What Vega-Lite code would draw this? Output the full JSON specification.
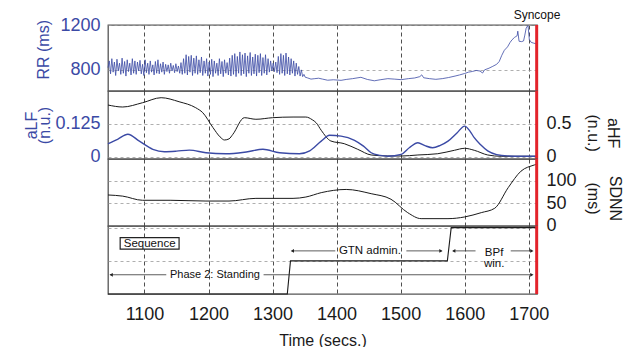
{
  "$schema": "https://vega.github.io/schema/vega-lite/v6.json",
  "padding": {"left": 22, "top": 8, "right": 0, "bottom": 0},
  "spacing": 0,
  "bounds": "flush",
  "config": {
    "font": "Liberation Sans",
    "view": {"stroke": "#555", "strokeWidth": 1.3},
    "axis": {"domain": false, "ticks": false, "labelFont": "Liberation Sans", "titleFont": "Liberation Sans", "labelFontSize": 18, "titleFontSize": 16, "titleFontWeight": "normal", "labelColor": "#1a1a1a", "titleColor": "#1a1a1a", "labelFlush": false, "labelOverlap": false, "labelBound": false},
    "axisY": {"gridColor": "#9a9a9a", "gridDash": [3, 3], "gridWidth": 0.8},
    "axisX": {"gridColor": "#222", "gridDash": [4, 3], "gridWidth": 0.8}
  },
  "datasets": {
    "rr": [
      {"t":1043,"rr":820},{"t":1045,"rr":880},{"t":1047,"rr":765},{"t":1049,"rr":900},{"t":1051,"rr":780},{"t":1053,"rr":870},{"t":1055,"rr":750},{"t":1057,"rr":895},{"t":1059,"rr":790},{"t":1061,"rr":860},
      {"t":1063,"rr":760},{"t":1065,"rr":905},{"t":1067,"rr":770},{"t":1069,"rr":875},{"t":1071,"rr":745},{"t":1073,"rr":890},{"t":1075,"rr":785},{"t":1077,"rr":860},{"t":1079,"rr":755},{"t":1081,"rr":900},
      {"t":1083,"rr":770},{"t":1085,"rr":880},{"t":1087,"rr":760},{"t":1089,"rr":870},{"t":1091,"rr":790},{"t":1093,"rr":885},{"t":1095,"rr":765},{"t":1097,"rr":850},{"t":1099,"rr":750},{"t":1101,"rr":890},
      {"t":1103,"rr":775},{"t":1105,"rr":860},{"t":1107,"rr":760},{"t":1109,"rr":880},{"t":1111,"rr":780},{"t":1113,"rr":845},{"t":1115,"rr":755},{"t":1117,"rr":875},{"t":1119,"rr":770},{"t":1121,"rr":890},
      {"t":1123,"rr":765},{"t":1125,"rr":855},{"t":1127,"rr":780},{"t":1129,"rr":870},{"t":1131,"rr":760},{"t":1133,"rr":850},{"t":1135,"rr":785},{"t":1137,"rr":845},{"t":1139,"rr":770},{"t":1141,"rr":860},
      {"t":1143,"rr":790},{"t":1145,"rr":840},{"t":1147,"rr":775},{"t":1149,"rr":855},{"t":1151,"rr":785},{"t":1153,"rr":835},{"t":1155,"rr":770},{"t":1157,"rr":865},{"t":1159,"rr":760},{"t":1161,"rr":900},
      {"t":1163,"rr":770},{"t":1165,"rr":935},{"t":1167,"rr":755},{"t":1169,"rr":920},{"t":1171,"rr":780},{"t":1173,"rr":930},{"t":1175,"rr":750},{"t":1177,"rr":905},{"t":1179,"rr":770},{"t":1181,"rr":925},
      {"t":1183,"rr":760},{"t":1185,"rr":890},{"t":1187,"rr":775},{"t":1189,"rr":915},{"t":1191,"rr":750},{"t":1193,"rr":880},{"t":1195,"rr":770},{"t":1197,"rr":900},{"t":1199,"rr":745},{"t":1201,"rr":870},
      {"t":1203,"rr":760},{"t":1205,"rr":895},{"t":1207,"rr":740},{"t":1209,"rr":880},{"t":1211,"rr":770},{"t":1213,"rr":860},{"t":1215,"rr":750},{"t":1217,"rr":900},{"t":1219,"rr":765},{"t":1221,"rr":875},
      {"t":1223,"rr":740},{"t":1225,"rr":890},{"t":1227,"rr":770},{"t":1229,"rr":865},{"t":1231,"rr":755},{"t":1233,"rr":905},{"t":1235,"rr":745},{"t":1237,"rr":930},{"t":1239,"rr":760},{"t":1241,"rr":945},
      {"t":1243,"rr":740},{"t":1245,"rr":920},{"t":1247,"rr":770},{"t":1249,"rr":960},{"t":1251,"rr":750},{"t":1253,"rr":935},{"t":1255,"rr":765},{"t":1257,"rr":950},{"t":1259,"rr":740},{"t":1261,"rr":925},
      {"t":1263,"rr":770},{"t":1265,"rr":955},{"t":1267,"rr":750},{"t":1269,"rr":915},{"t":1271,"rr":765},{"t":1273,"rr":940},{"t":1275,"rr":745},{"t":1277,"rr":930},{"t":1279,"rr":775},{"t":1281,"rr":945},
      {"t":1283,"rr":750},{"t":1285,"rr":910},{"t":1287,"rr":770},{"t":1289,"rr":935},{"t":1291,"rr":755},{"t":1293,"rr":900},{"t":1295,"rr":780},{"t":1297,"rr":880},{"t":1299,"rr":790},{"t":1301,"rr":860},
      {"t":1303,"rr":785},{"t":1305,"rr":870},{"t":1307,"rr":775},{"t":1309,"rr":920},{"t":1311,"rr":760},{"t":1313,"rr":945},{"t":1315,"rr":770},{"t":1317,"rr":930},{"t":1319,"rr":750},{"t":1321,"rr":950},
      {"t":1323,"rr":765},{"t":1325,"rr":915},{"t":1327,"rr":755},{"t":1329,"rr":900},{"t":1331,"rr":770},{"t":1333,"rr":880},{"t":1335,"rr":745},{"t":1337,"rr":860},{"t":1339,"rr":760},{"t":1341,"rr":830},
      {"t":1343,"rr":745},{"t":1345,"rr":800},{"t":1347,"rr":740},{"t":1349,"rr":760},{"t":1351,"rr":735},{"t":1355,"rr":728},{"t":1360,"rr":718},{"t":1366,"rr":722},{"t":1372,"rr":726},{"t":1378,"rr":718},
      {"t":1386,"rr":708},{"t":1395,"rr":712},{"t":1407,"rr":707},{"t":1415,"rr":715},{"t":1425,"rr":722},{"t":1438,"rr":734},{"t":1448,"rr":715},{"t":1459,"rr":703},{"t":1468,"rr":712},{"t":1480,"rr":722},
      {"t":1490,"rr":718},{"t":1501,"rr":713},{"t":1512,"rr":722},{"t":1522,"rr":728},{"t":1530,"rr":740},{"t":1533,"rr":756},{"t":1536,"rr":730},{"t":1545,"rr":722},{"t":1555,"rr":716},{"t":1565,"rr":722},
      {"t":1575,"rr":732},{"t":1585,"rr":745},{"t":1592,"rr":755},{"t":1600,"rr":768},{"t":1606,"rr":780},{"t":1612,"rr":786},{"t":1618,"rr":795},{"t":1624,"rr":790},{"t":1628,"rr":772},{"t":1631,"rr":800},
      {"t":1638,"rr":815},{"t":1644,"rr":832},{"t":1650,"rr":850},{"t":1654,"rr":875},{"t":1658,"rr":930},{"t":1662,"rr":975},{"t":1667,"rr":1005},{"t":1671,"rr":1045},{"t":1674,"rr":1068},{"t":1678,"rr":1090},
      {"t":1680,"rr":1097},{"t":1682,"rr":1105},{"t":1683,"rr":1145},{"t":1685,"rr":1055},{"t":1689,"rr":1052},{"t":1692,"rr":1058},{"t":1694,"rr":1110},{"t":1696,"rr":1170},{"t":1698,"rr":1190},{"t":1699,"rr":1195},
      {"t":1701,"rr":1070},{"t":1704,"rr":1045},{"t":1708,"rr":1038},{"t":1713,"rr":1030}
    ],
    "alf": [
      {"t":1043,"v":0.049},{"t":1058,"v":0.066},{"t":1074,"v":0.085},{"t":1092,"v":0.059},{"t":1113,"v":0.028},{"t":1131,"v":0.019},{"t":1150,"v":0.021},{"t":1170,"v":0.025},{"t":1196,"v":0.015},{"t":1227,"v":0.011},
      {"t":1259,"v":0.018},{"t":1285,"v":0.028},{"t":1311,"v":0.015},{"t":1342,"v":0.011},{"t":1358,"v":0.022},{"t":1376,"v":0.059},{"t":1389,"v":0.081},{"t":1407,"v":0.078},{"t":1428,"v":0.062},{"t":1442,"v":0.04},
      {"t":1454,"v":0.015},{"t":1468,"v":0.005},{"t":1480,"v":0.002},{"t":1501,"v":0.009},{"t":1514,"v":0.035},{"t":1527,"v":0.053},{"t":1538,"v":0.042},{"t":1550,"v":0.034},{"t":1562,"v":0.043},{"t":1574,"v":0.059},
      {"t":1588,"v":0.09},{"t":1600,"v":0.116},{"t":1608,"v":0.098},{"t":1615,"v":0.072},{"t":1625,"v":0.045},{"t":1636,"v":0.022},{"t":1650,"v":0.008},{"t":1667,"v":0.003},{"t":1690,"v":0.002},{"t":1713,"v":0.002}
    ],
    "ahf": [
      {"t":1043,"v":0.783},{"t":1066,"v":0.753},{"t":1097,"v":0.818},{"t":1126,"v":0.894},{"t":1154,"v":0.833},{"t":1180,"v":0.742},{"t":1191,"v":0.667},{"t":1207,"v":0.44},{"t":1218,"v":0.3},{"t":1225,"v":0.253},
      {"t":1232,"v":0.27},{"t":1238,"v":0.339},{"t":1256,"v":0.591},{"t":1274,"v":0.567},{"t":1300,"v":0.591},{"t":1332,"v":0.601},{"t":1352,"v":0.601},{"t":1362,"v":0.56},{"t":1368,"v":0.515},{"t":1376,"v":0.4},
      {"t":1391,"v":0.238},{"t":1412,"v":0.197},{"t":1433,"v":0.112},{"t":1454,"v":0.026},{"t":1480,"v":0.011},{"t":1501,"v":0.01},{"t":1527,"v":0.026},{"t":1558,"v":0.045},{"t":1584,"v":0.097},{"t":1600,"v":0.127},
      {"t":1615,"v":0.097},{"t":1636,"v":0.026},{"t":1657,"v":0.006},{"t":1713,"v":0.006}
    ],
    "sdnn": [
      {"t":1043,"v":68.6},{"t":1066,"v":66},{"t":1097,"v":56.7},{"t":1140,"v":56.7},{"t":1196,"v":55},{"t":1232,"v":55},{"t":1274,"v":61},{"t":1332,"v":61},{"t":1352,"v":64},{"t":1376,"v":73.8},
      {"t":1415,"v":81},{"t":1454,"v":71.5},{"t":1485,"v":59},{"t":1511,"v":29},{"t":1532,"v":15.5},{"t":1574,"v":15.5},{"t":1600,"v":19.3},{"t":1626,"v":29},{"t":1647,"v":38.8},{"t":1668,"v":85},
      {"t":1688,"v":122},{"t":1709,"v":136},{"t":1713,"v":138}
    ],
    "seq": [
      {"t":1043,"v":0},{"t":1323,"v":0},{"t":1328,"v":1},{"t":1573,"v":1},{"t":1579,"v":2},{"t":1713,"v":2}
    ],
    "syncope": [{"t":1712.5}]
  },
  "vconcat": [
    {
      "width": 429, "height": 66,
      "layer": [
        {
          "data": {"name": "rr"},
          "mark": {"type": "line", "color": "#3b4aa5", "strokeWidth": 0.8},
          "encoding": {
            "x": {"field": "t", "type": "quantitative", "scale": {"domain": [1043, 1713], "nice": false, "zero": false},
                  "axis": {"values": [1100, 1200, 1300, 1400, 1500, 1600, 1700], "labels": false, "title": null, "grid": true}},
            "y": {"field": "rr", "type": "quantitative", "scale": {"domain": [612, 1200], "nice": false, "zero": false},
                  "axis": {"values": [800, 1000, 1200], "format": "d", "labelColor": "#3b4aa5", "labelPadding": 8, "grid": true,
                           "title": "RR (ms)", "titleColor": "#3b4aa5", "titleAngle": -90, "titleX": -56.6, "titleY": 24.3, "titleAlign": "center", "titleBaseline": "bottom"}}
          }
        },
        {"data": {"name": "syncope"}, "mark": {"type": "rule", "color": "#e3232b", "strokeWidth": 3}, "encoding": {"x": {"field": "t", "type": "quantitative"}}},
        {"data": {"values": [{"label": "Syncope"}]}, "mark": {"type": "text", "fontSize": 12, "color": "#111"},
         "encoding": {"x": {"datum": 1713}, "y": {"datum": 1289}, "text": {"field": "label"}}}
      ]
    },
    {
      "width": 429, "height": 68,
      "layer": [
        {
          "data": {"name": "ahf"},
          "mark": {"type": "line", "color": "#1a1a1a", "strokeWidth": 1, "interpolate": "monotone"},
          "encoding": {
            "x": {"field": "t", "type": "quantitative", "scale": {"domain": [1043, 1713], "nice": false, "zero": false},
                  "axis": {"values": [1100, 1200, 1300, 1400, 1500, 1600, 1700], "labels": false, "title": null, "grid": true}},
            "y": {"field": "v", "type": "quantitative", "scale": {"domain": [-0.035, 0.9955], "nice": false, "zero": false},
                  "axis": {"orient": "right", "values": [0, 0.5], "labelExpr": "format(datum.value, '.1~f')", "labelPadding": 9, "grid": false,
                           "title": ["aHF", "(n.u.)"], "titleAngle": 90, "titleX": 67.6, "titleY": 41.7, "titleAlign": "center", "titleBaseline": "bottom", "titleLineHeight": 20}}
          }
        },
        {
          "data": {"name": "alf"},
          "mark": {"type": "line", "color": "#3b4aa5", "strokeWidth": 1.4, "interpolate": "monotone"},
          "encoding": {
            "x": {"field": "t", "type": "quantitative"},
            "y": {"field": "v", "type": "quantitative", "scale": {"domain": [-0.0087, 0.2489], "nice": false, "zero": false},
                  "axis": {"orient": "left", "values": [0, 0.125], "labelExpr": "format(datum.value, '.3~f')", "labelColor": "#3b4aa5", "labelPadding": 8, "grid": true,
                           "title": ["aLF", "(n.u.)"], "titleColor": "#3b4aa5", "titleAngle": -90, "titleX": -68.5, "titleY": 34, "titleAlign": "center", "titleBaseline": "bottom", "titleLineHeight": 13}}
          }
        },
        {"data": {"name": "syncope"}, "mark": {"type": "rule", "color": "#e3232b", "strokeWidth": 3}, "encoding": {"x": {"field": "t", "type": "quantitative"}}}
      ],
      "resolve": {"scale": {"y": "independent"}}
    },
    {
      "width": 429, "height": 67,
      "layer": [
        {
          "data": {"name": "sdnn"},
          "mark": {"type": "line", "color": "#1a1a1a", "strokeWidth": 1, "interpolate": "monotone"},
          "encoding": {
            "x": {"field": "t", "type": "quantitative", "scale": {"domain": [1043, 1713], "nice": false, "zero": false},
                  "axis": {"values": [1100, 1200, 1300, 1400, 1500, 1600, 1700], "labels": false, "title": null, "grid": true}},
            "y": {"field": "v", "type": "quantitative", "scale": {"domain": [-1, 149.3], "nice": false, "zero": false},
                  "axis": {"orient": "right", "values": [0, 50, 100], "format": "d", "labelPadding": 9, "grid": true,
                           "title": ["SDNN", "(ms)"], "titleAngle": 90, "titleX": 69, "titleY": 39, "titleAlign": "center", "titleBaseline": "bottom", "titleLineHeight": 22}}
          }
        },
        {"data": {"name": "syncope"}, "mark": {"type": "rule", "color": "#e3232b", "strokeWidth": 3}, "encoding": {"x": {"field": "t", "type": "quantitative"}}}
      ]
    },
    {
      "width": 429, "height": 68,
      "layer": [
        {
          "data": {"name": "seq"},
          "mark": {"type": "line", "color": "#1a1a1a", "strokeWidth": 1.1},
          "encoding": {
            "x": {"field": "t", "type": "quantitative", "scale": {"domain": [1043, 1713], "nice": false, "zero": false},
                  "axis": {"values": [1100, 1200, 1300, 1400, 1500, 1600, 1700], "format": "d", "labelPadding": 11, "grid": true,
                           "title": "Time (secs.)", "titleY": 51, "titleBaseline": "alphabetic"}},
            "y": {"field": "v", "type": "quantitative", "scale": {"domain": [0, 2.05], "nice": false, "zero": false},
                  "axis": {"values": [1, 2], "labels": false, "grid": true, "title": null}}
          }
        },
        {"data": {"values": [{"t": 1046, "t2": 1134}, {"t": 1286, "t2": 1705}]},
         "mark": {"type": "rule", "color": "#333", "strokeWidth": 0.8},
         "encoding": {"x": {"field": "t", "type": "quantitative"}, "x2": {"field": "t2"}, "y": {"datum": 0.58}}},
        {"data": {"values": [{"t": 1330, "t2": 1398}, {"t": 1509, "t2": 1564}, {"t": 1582, "t2": 1617}, {"t": 1672, "t2": 1705}]},
         "mark": {"type": "rule", "color": "#333", "strokeWidth": 0.8},
         "encoding": {"x": {"field": "t", "type": "quantitative"}, "x2": {"field": "t2"}, "y": {"datum": 1.3}}},
        {"data": {"values": [{"t": 1048}]},
         "mark": {"type": "point", "shape": "triangle-left", "filled": true, "size": 14, "color": "#222", "opacity": 1},
         "encoding": {"x": {"field": "t", "type": "quantitative"}, "y": {"datum": 0.58}}},
        {"data": {"values": [{"t": 1705}]},
         "mark": {"type": "point", "shape": "triangle-right", "filled": true, "size": 14, "color": "#222", "opacity": 1},
         "encoding": {"x": {"field": "t", "type": "quantitative"}, "y": {"datum": 0.58}}},
        {"data": {"values": [{"t": 1331}, {"t": 1583}]},
         "mark": {"type": "point", "shape": "triangle-left", "filled": true, "size": 14, "color": "#222", "opacity": 1},
         "encoding": {"x": {"field": "t", "type": "quantitative"}, "y": {"datum": 1.3}}},
        {"data": {"values": [{"t": 1563}, {"t": 1705}]},
         "mark": {"type": "point", "shape": "triangle-right", "filled": true, "size": 14, "color": "#222", "opacity": 1},
         "encoding": {"x": {"field": "t", "type": "quantitative"}, "y": {"datum": 1.3}}},
        {"data": {"values": [{"t": 1210, "label": "Phase 2: Standing"}]},
         "mark": {"type": "text", "fontSize": 11, "color": "#111"},
         "encoding": {"x": {"field": "t", "type": "quantitative"}, "y": {"datum": 0.58}, "text": {"field": "label"}}},
        {"data": {"values": [{"t": 1452, "label": "GTN admin."}]},
         "mark": {"type": "text", "fontSize": 11.5, "color": "#111"},
         "encoding": {"x": {"field": "t", "type": "quantitative"}, "y": {"datum": 1.3}, "text": {"field": "label"}}},
        {"data": {"values": [{"t": 1646, "label": ["BPf", "win."]}]},
         "mark": {"type": "text", "fontSize": 11.5, "color": "#111", "lineHeight": 11},
         "encoding": {"x": {"field": "t", "type": "quantitative"}, "y": {"datum": 1.24}, "text": {"field": "label"}}},
        {"data": {"values": [{"t": 1062, "t2": 1154}]},
         "mark": {"type": "rect", "fill": "white", "stroke": "#222", "strokeWidth": 1.2},
         "encoding": {"x": {"field": "t", "type": "quantitative"}, "x2": {"field": "t2"}, "y": {"datum": 1.35}, "y2": {"datum": 1.7}}},
        {"data": {"values": [{"t": 1108, "label": "Sequence"}]},
         "mark": {"type": "text", "fontSize": 11.5, "color": "#111"},
         "encoding": {"x": {"field": "t", "type": "quantitative"}, "y": {"datum": 1.52}, "text": {"field": "label"}}},
        {"data": {"name": "syncope"}, "mark": {"type": "rule", "color": "#e3232b", "strokeWidth": 3}, "encoding": {"x": {"field": "t", "type": "quantitative"}}}
      ]
    }
  ]
}
